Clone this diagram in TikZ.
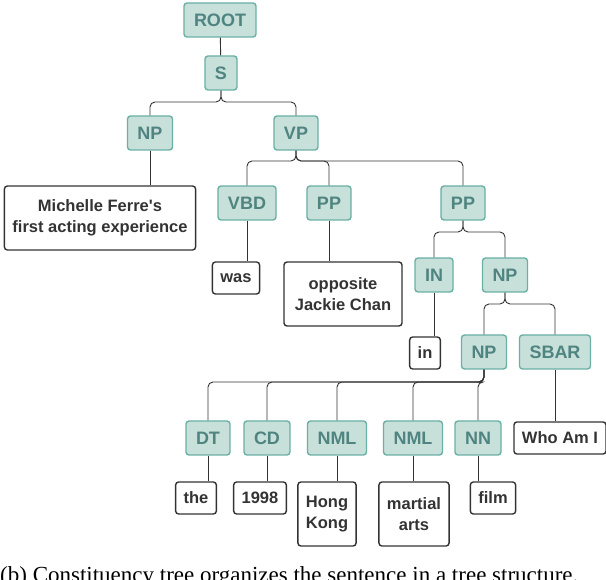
\documentclass[tikz,border=0pt]{standalone}
\usepackage{fontspec}
\setmainfont{Liberation Serif}
\newfontfamily\labelfont{Liberation Sans}
\definecolor{tagfill}{HTML}{C8E0DA}
\definecolor{tagdraw}{HTML}{6AB0A5}
\definecolor{tagtext}{HTML}{4F8480}
\definecolor{edgecol}{HTML}{333333}
\tikzset{
  tag/.style={draw=tagdraw, fill=tagfill, text=tagtext, line width=1.4pt,
    rounded corners=3pt, minimum height=34pt, inner xsep=10pt,
    font=\labelfont\bfseries\fontsize{18}{20}\selectfont},
  word/.style={draw=edgecol, line width=1.4pt, rounded corners=3pt,
    minimum height=32pt, inner xsep=8pt, align=center, text=edgecol,
    font=\labelfont\bfseries\fontsize{16.5}{21}\selectfont},
  edge/.style={draw=edgecol, line width=0.9pt, rounded corners=5pt}
}
\newcommand{\branch}[3]{\draw[edge] (#1.south) |- (#2.north |- 0,#3) -- (#2.north);}
\begin{document}
\begin{tikzpicture}[x=1pt, y=-1pt]
  \useasboundingbox (0,0) rectangle (606,580);
  % tags
  \node[tag] (root) at (220,20) {ROOT};
  \node[tag] (s) at (221,73) {S};
  \node[tag] (np1) at (150,133) {NP};
  \node[tag] (vp) at (296,133) {VP};
  \node[tag] (vbd) at (247,203) {VBD};
  \node[tag] (pp1) at (329,203) {PP};
  \node[tag] (pp2) at (463,203) {PP};
  \node[tag] (in) at (434,275) {IN};
  \node[tag] (np2) at (505,275) {NP};
  \node[tag] (np3) at (484,352) {NP};
  \node[tag] (sbar) at (555,352) {SBAR};
  \node[tag] (dt) at (208,438) {DT};
  \node[tag] (cd) at (267,438) {CD};
  \node[tag] (nml1) at (337,438) {NML};
  \node[tag] (nml2) at (413,438) {NML};
  \node[tag] (nn) at (478,438) {NN};
  % words
  \node[word, minimum width=187pt, minimum height=64pt] (subj) at (100,218) {Michelle Ferre's\\first acting experience};
  \node[word] (was) at (236,278) {was};
  \node[word, minimum width=118pt, minimum height=64pt] (opp) at (343,294) {opposite\\Jackie Chan};
  \node[word] (inw) at (425,353) {in};
  \node[word, minimum width=87pt] (who) at (560,438) {Who Am I};
  \node[word] (the) at (196,498) {the};
  \node[word] (year) at (260,498) {1998};
  \node[word, minimum height=64pt] (hk) at (327,514) {Hong\\Kong};
  \node[word, minimum height=64pt] (ma) at (414,514) {martial\\arts};
  \node[word] (film) at (493,498) {film};
  % connectors
  \draw[edge] (root) -- (s);
  \branch{s}{np1}{102}
  \branch{s}{vp}{102}
  \draw[edge] (np1.south) -- (np1.south |- subj.north);
  \branch{vp}{vbd}{161}
  \branch{vp}{pp1}{161}
  \branch{vp}{pp2}{161}
  \draw[edge] (vbd.south) -- (vbd.south |- was.north);
  \draw[edge] (pp1.south) -- (pp1.south |- opp.north);
  \branch{pp2}{in}{232}
  \branch{pp2}{np2}{232}
  \draw[edge] (in.south) -- (in.south |- inw.north);
  \branch{np2}{np3}{304}
  \branch{np2}{sbar}{304}
  \draw[edge] (sbar.south) -- (sbar.south |- who.north);
  \branch{np3}{dt}{382}
  \branch{np3}{cd}{382}
  \branch{np3}{nml1}{382}
  \branch{np3}{nml2}{382}
  \branch{np3}{nn}{382}
  \draw[edge] (dt.south) -- (dt.south |- the.north);
  \draw[edge] (cd.south) -- (cd.south |- year.north);
  \draw[edge] (nml1.south) -- (nml1.south |- hk.north);
  \draw[edge] (nml2.south) -- (nml2.south |- ma.north);
  \draw[edge] (nn.south) -- (nn.south |- film.north);
  % caption, cut by the frame
  \begin{scope}
    \clip (0,0) rectangle (606,580);
    \node[anchor=west, inner sep=0pt, font=\fontsize{23}{25}\selectfont] (cap) at (0,577) {(b) Constituency tree organizes the sentence in a tree structure.};
  \end{scope}
\end{tikzpicture}
\end{document}
